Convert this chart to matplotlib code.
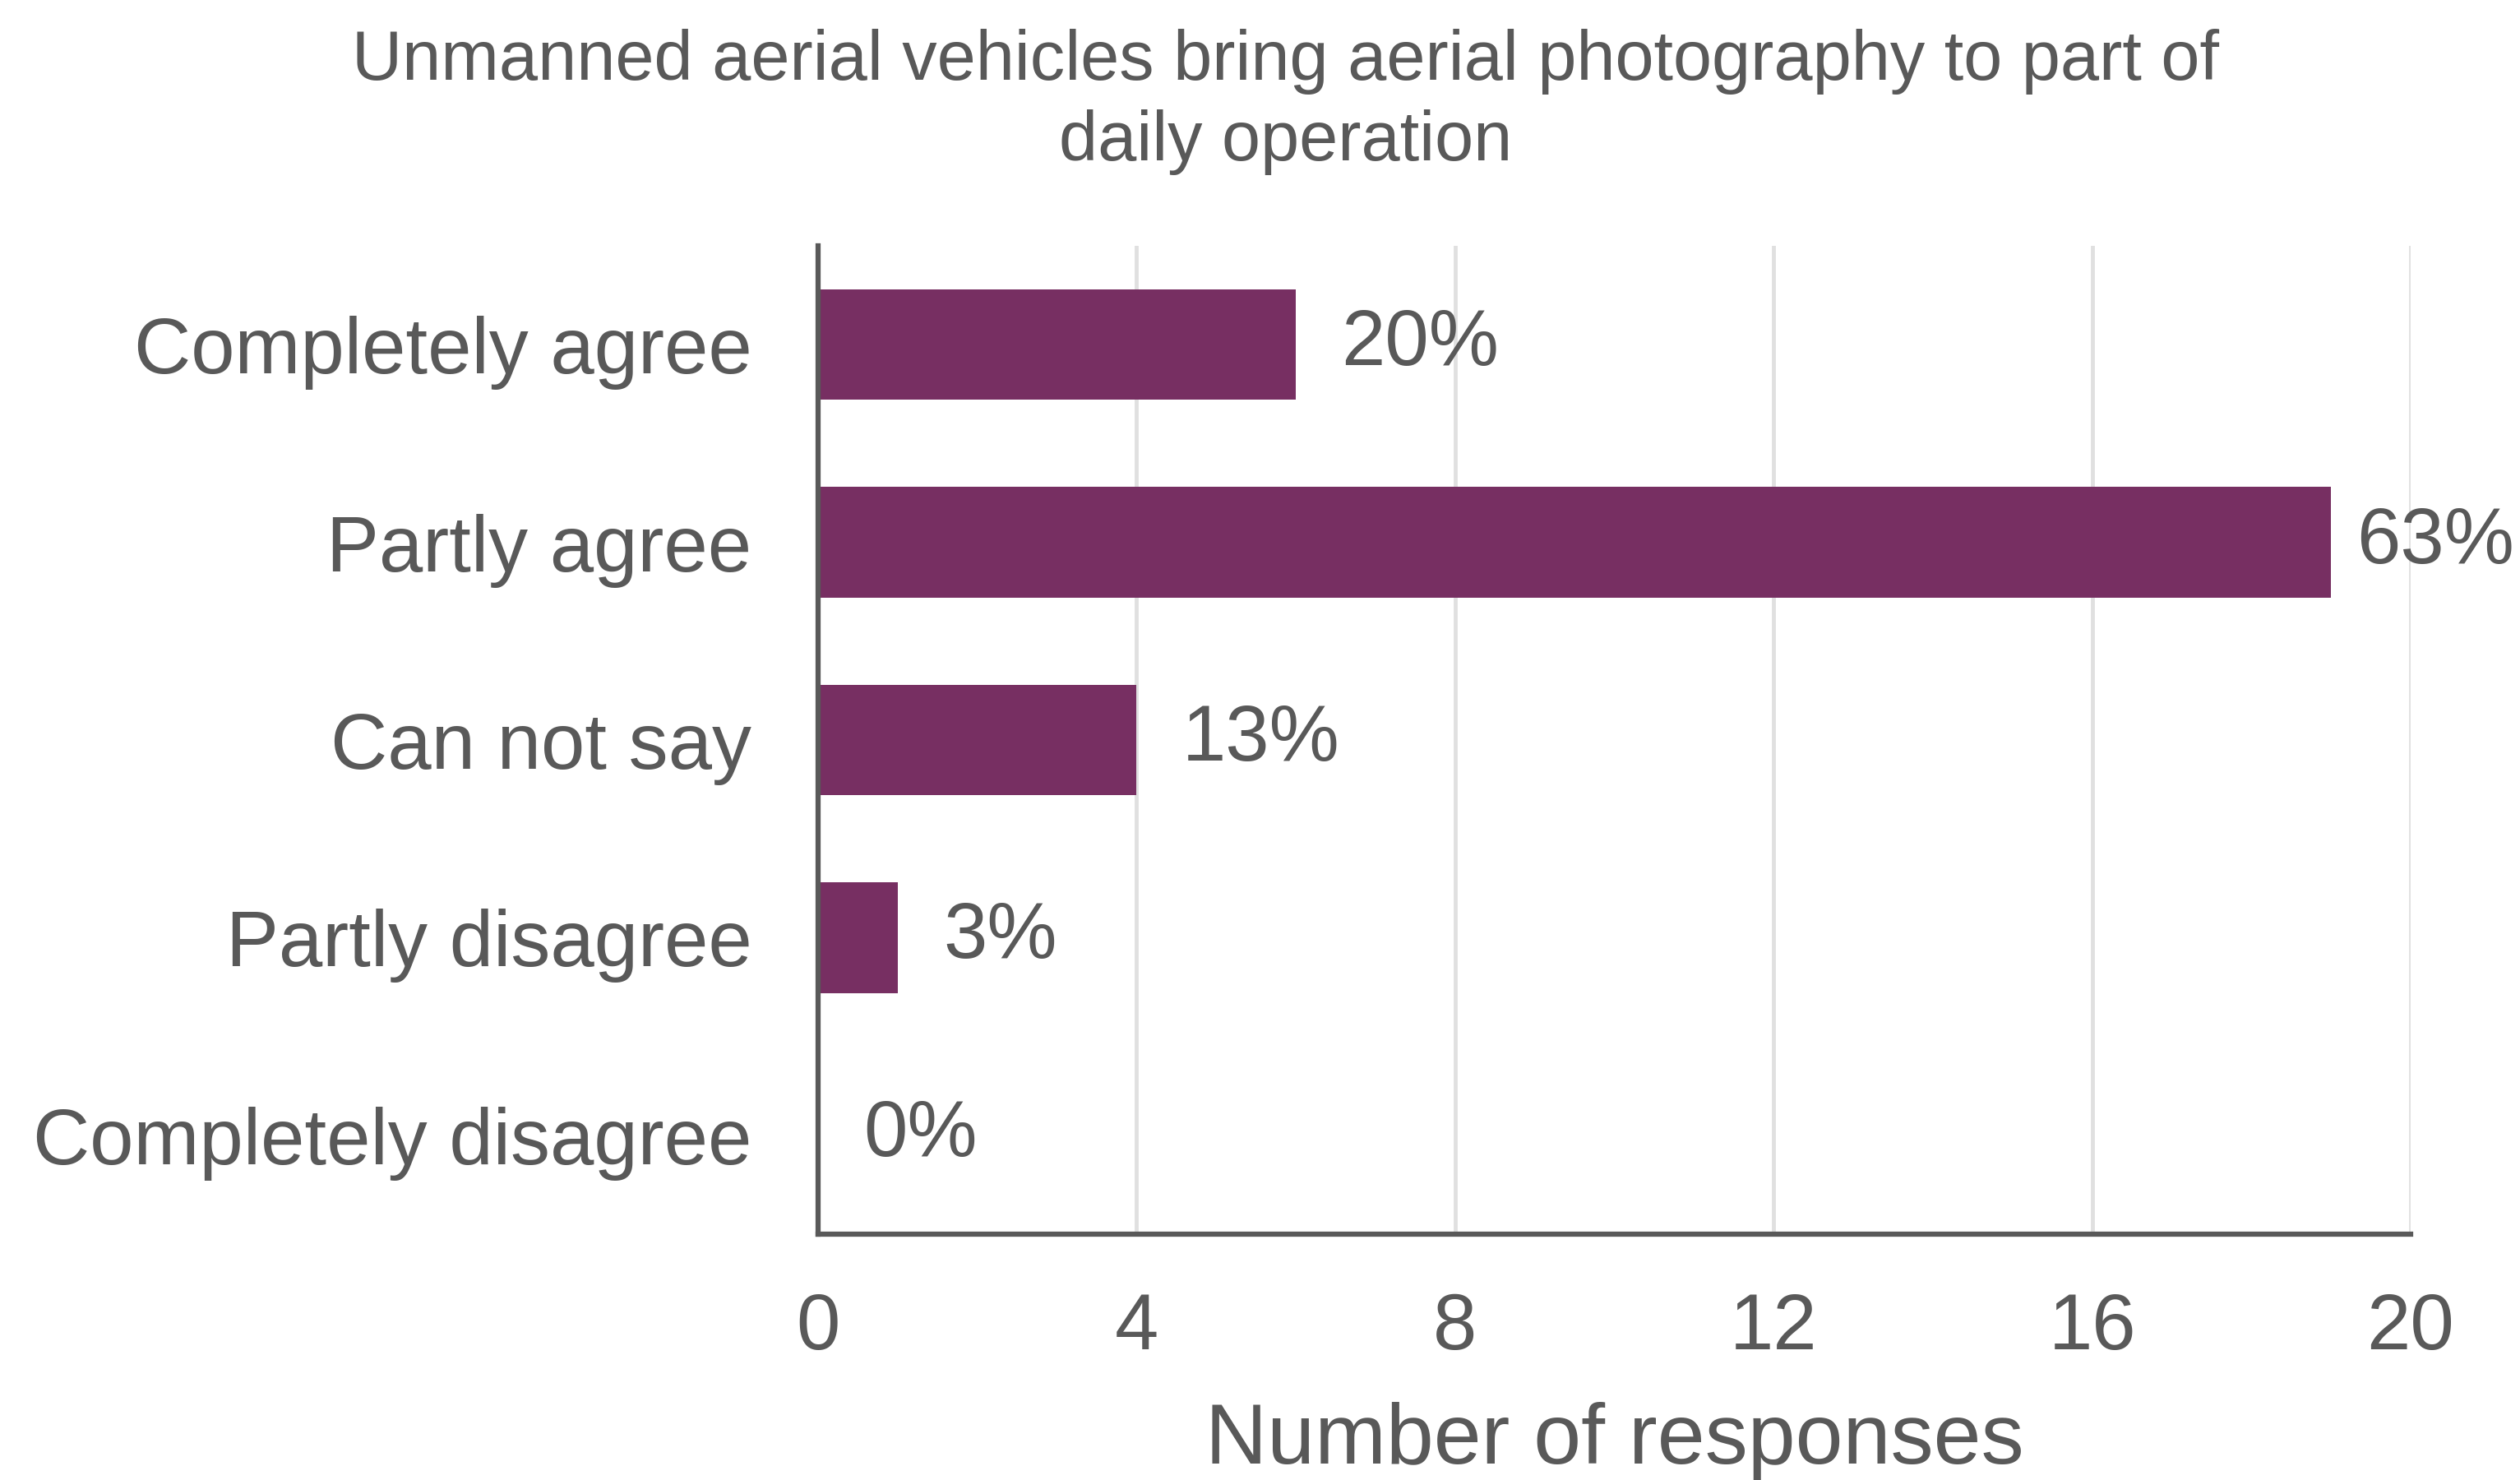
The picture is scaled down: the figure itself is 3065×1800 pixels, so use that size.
import numpy as np
import matplotlib.pyplot as plt

categories = ["Completely agree", "Partly agree", "Can not say",
              "Partly disagree", "Completely disagree"]
counts = [6, 19, 4, 1, 0]
shares = ["20%", "63%", "13%", "3%", "0%"]
xticks = [0, 4, 8, 12, 16, 20]

title = "Unmanned aerial vehicles bring aerial photography to part of\ndaily operation"
xlabel = "Number of responses"

TEXT = "#595959"
BAR = "#772F62"
GRID = "#E0E0E0"

plt.rcParams["font.family"] = ["Liberation Sans", "DejaVu Sans"]

fig = plt.figure(figsize=(30.65, 18), dpi=100)
ax = fig.add_axes([0.3246, 0.166, 0.632, 0.668])

y = np.arange(len(categories))
ax.barh(y, counts, height=0.56, color=BAR, zorder=3)

for yi, v, s in zip(y, counts, shares):
    # the longest bar sits near the figure edge, so its label hugs the bar
    pad = 22 if v == max(counts) else 40
    ax.annotate(s, (v, yi), xytext=(pad, 0), textcoords="offset points",
                ha="left", va="center", fontsize=69, color=TEXT)

ax.set_ylim(len(categories) - 0.5, -0.5)
ax.set_xlim(0, 20)
ax.set_yticks(y)
ax.set_yticklabels(categories)
ax.set_xticks(xticks)
ax.tick_params(axis="both", length=0, labelsize=69, colors=TEXT)
ax.tick_params(axis="y", pad=58)
ax.tick_params(axis="x", pad=50)
ax.xaxis.grid(True, color=GRID, linewidth=3.5, zorder=0)
ax.set_axisbelow(True)

for side in ("top", "right"):
    ax.spines[side].set_visible(False)
for side in ("left", "bottom"):
    ax.spines[side].set_color(TEXT)
    ax.spines[side].set_linewidth(4.5)
    ax.spines[side].set_zorder(4)

ax.set_xlabel(xlabel, fontsize=75, color=TEXT, labelpad=32)

fig.text(0.51, 0.931, title, ha="center", va="center", fontsize=61,
         color=TEXT, linespacing=1.3)

fig.savefig("out.png", dpi=100, facecolor="white")
